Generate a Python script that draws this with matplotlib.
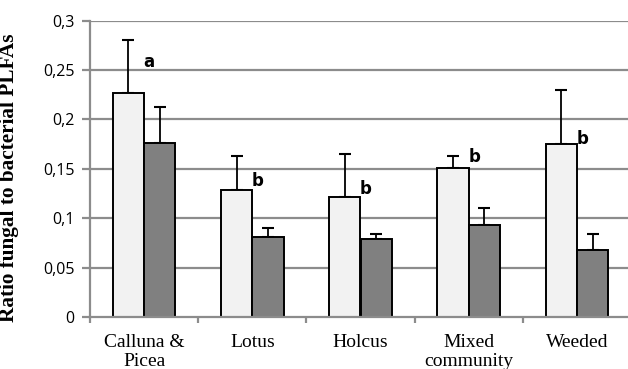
import numpy as np
import matplotlib
matplotlib.use("Agg")
import matplotlib.pyplot as plt

categories = ["Calluna &\nPicea", "Lotus", "Holcus", "Mixed\ncommunity", "Weeded"]
light_vals = [0.227, 0.129, 0.1215, 0.151, 0.1755]
light_err = [0.053, 0.034, 0.044, 0.012, 0.0545]
dark_vals = [0.176, 0.081, 0.0785, 0.093, 0.068]
dark_err = [0.037, 0.009, 0.006, 0.017, 0.016]
letters = ["a", "b", "b", "b", "b"]
letter_y = [0.258, 0.138, 0.130, 0.162, 0.180]
yticks = [0, 0.05, 0.1, 0.15, 0.2, 0.25, 0.3]
ytick_labels = ["0", "0,05", "0,1", "0,15", "0,2", "0,25", "0,3"]

fig = plt.figure(figsize=(6.28, 3.69), dpi=100)
ax = fig.add_axes([90 / 628, 52 / 369, 541 / 628, 296.3 / 369])

x = np.arange(len(categories))
w = 0.29
grid_col = "#8c8c8c"

ax.set_ylim(0, 0.3)
ax.set_xlim(-0.5, len(categories) - 0.5)
for t in yticks[1:]:
    ax.axhline(t, color=grid_col, lw=1.6, zorder=0)

ax.bar(x - w / 2, light_vals, w, color="#f2f2f2", edgecolor="black", lw=1.4, zorder=3)
ax.bar(x + w / 2, dark_vals, w, color="#808080", edgecolor="black", lw=1.4, zorder=3)
ax.errorbar(x - w / 2, light_vals, yerr=[np.zeros(len(x)), light_err], fmt="none",
            ecolor="black", elinewidth=1.3, capsize=4, capthick=1.5, zorder=2)
ax.errorbar(x + w / 2, dark_vals, yerr=[np.zeros(len(x)), dark_err], fmt="none",
            ecolor="black", elinewidth=1.3, capsize=4, capthick=1.5, zorder=2)

for xi, lt, ly in zip(x, letters, letter_y):
    ax.text(xi - 0.005, ly, lt, family="DejaVu Sans", fontweight="bold",
            fontsize=12, ha="left", va="center", zorder=4)

for s in ["top", "right"]:
    ax.spines[s].set_visible(False)
ax.spines["left"].set_color(grid_col)
ax.spines["left"].set_linewidth(1.6)
ax.spines["bottom"].set_color(grid_col)
ax.spines["bottom"].set_linewidth(1.6)
ax.spines["bottom"].set_zorder(5)

ax.set_yticks(yticks)
ax.set_yticklabels(ytick_labels, family="Open Sans", fontsize=11.5)
ax.tick_params(axis="y", length=6, width=1.6, color=grid_col, pad=5)

ax.set_xticks(x)
ax.set_xticklabels(categories, family="Liberation Serif", fontsize=14,
                   linespacing=1.18)
ax.tick_params(axis="x", which="major", length=0, pad=12)
ax.set_xticks(np.arange(len(categories) + 1) - 0.5, minor=True)
ax.tick_params(axis="x", which="minor", length=4.5, width=1.6, color=grid_col,
               direction="out")

ax.set_ylabel("Ratio fungal to bacterial PLFAs", family="Liberation Serif",
              fontweight="bold", fontsize=15.3)
ax.yaxis.set_label_coords(-0.131, 0.47)

fig.savefig("out.png", dpi=100)
